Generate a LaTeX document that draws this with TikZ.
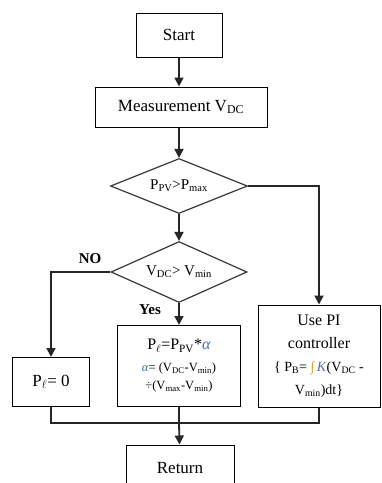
\documentclass[tikz,border=0pt]{standalone}
\usepackage{fontspec}
\setmainfont{Liberation Serif}
\usetikzlibrary{shapes.geometric,arrows.meta}
\definecolor{alphablue}{HTML}{3F6FB5}
\definecolor{integorange}{HTML}{E39B2D}
\definecolor{gainblue}{HTML}{5A6E9A}
\definecolor{edgegray}{HTML}{383838}

\begin{document}
\begin{tikzpicture}[x=1pt,y=-1pt,
    procbox/.style={draw, line width=1pt, inner sep=2pt, align=center, font=\fontsize{17}{20}\selectfont},
    decision/.style={diamond, draw=edgegray, line width=1.2pt, aspect=2.5, inner sep=0pt, font=\fontsize{15}{18}\selectfont},
    flow/.style={black!85, line width=1.8pt},
    flowarrow/.style={flow, -{Triangle[width=9pt,length=9pt]}},
    branchlabel/.style={font=\bfseries\fontsize{15}{18}\selectfont}]
        \useasboundingbox (0,0) rectangle (382,483);
        \clip (0,0) rectangle (382,483);

        % Boxes and decisions
        \node[procbox, minimum width=86pt, minimum height=44pt] (start) at (179,35) {Start};
        \node[procbox, minimum width=172pt, minimum height=40pt] (meas) at (181,107) {Measurement V\textsubscript{DC}};
        \node[decision, minimum width=137pt, minimum height=55pt] (pvcheck) at (179,186) {P\textsubscript{PV}>P\textsubscript{max}};
        \node[decision, minimum width=136pt, minimum height=61pt] (vcheck) at (179,272) {V\textsubscript{DC}> V\textsubscript{min}};
        \node[procbox, minimum width=77pt, minimum height=49pt] (pzero) at (51,382) {P\textsubscript{$\ell$}= 0};
        \node[procbox, minimum width=123pt, minimum height=81pt, font=\fontsize{16}{18}\selectfont] (pscale) at (179,366)
            {P\textsubscript{$\ell$}=P\textsubscript{PV}*\textcolor{alphablue}{\textit{α}}\\[4pt]
             {\fontsize{12.5}{18}\selectfont\textcolor{alphablue}{\textit{α}}= (V\textsubscript{DC}-V\textsubscript{min})}\\
             {\fontsize{12.5}{18}\selectfont ÷(V\textsubscript{max}-V\textsubscript{min})}};
        \node[procbox, minimum width=122pt, minimum height=102pt, font=\fontsize{16}{23}\selectfont] (pi) at (319,356)
            {Use PI\\controller\\
             {\fontsize{14}{23}\selectfont\{ P\textsubscript{B}= \textcolor{integorange}{∫}\,\textcolor{gainblue}{\textit{K}}(V\textsubscript{DC} -}\\
             {\fontsize{14}{23}\selectfont V\textsubscript{min})dt\}}};
        \node[procbox, minimum width=108pt, minimum height=46pt] (ret) at (180,468) {Return};

        % Branch labels
        \node[branchlabel] (nolabel) at (90,259) {NO};
        \node[branchlabel] (yeslabel) at (150,310) {Yes};

        % Connectors
        \draw[flowarrow] (start) -- (start |- meas.north);
        \draw[flowarrow] (meas.south -| start) -- (pvcheck);
        \draw[flowarrow] (pvcheck) -- (vcheck);
        \draw[flowarrow] (pvcheck.east) -| (pi.north);
        \draw[flowarrow] (vcheck.west) -| (pzero.north);
        \draw[flowarrow] (vcheck) -- (pscale);

        % Merge to return
        \coordinate (merge) at (179,423);
        \draw[flow] (pzero.south) |- (pi.south |- merge) -- (pi.south);
        \draw[flow] (pscale.south) -- (merge);
        \draw[flowarrow] (merge) -- (ret);
\end{tikzpicture}
\end{document}
